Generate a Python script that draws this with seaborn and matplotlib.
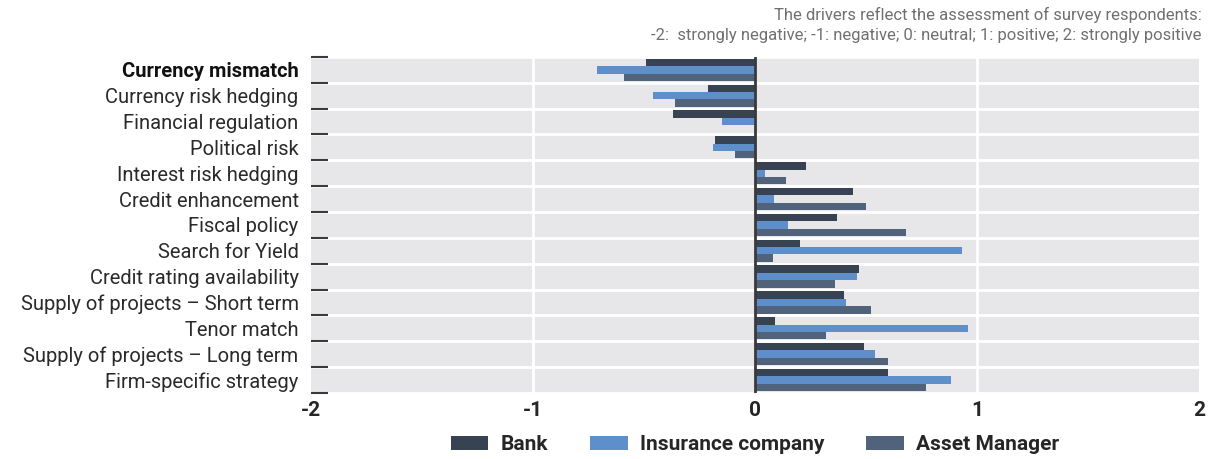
"""
Drivers of infrastructure investment by investor type, as a grouped
horizontal bar chart drawn with seaborn.
"""

import matplotlib

matplotlib.use("Agg")

import matplotlib.pyplot as plt
import numpy as np
import pandas as pd
import seaborn as sns
from matplotlib.patches import Patch

DRIVERS: list[str] = [
    "Currency mismatch",
    "Currency risk hedging",
    "Financial regulation",
    "Political risk",
    "Interest risk hedging",
    "Credit enhancement",
    "Fiscal policy",
    "Search for Yield",
    "Credit rating availability",
    "Supply of projects \u2013 Short term",
    "Tenor match",
    "Supply of projects \u2013 Long term",
    "Firm-specific strategy",
]

INVESTORS: list[str] = ["Bank", "Insurance company", "Asset Manager"]

BANK_SCORES: list[float] = [
    -0.49, -0.21, -0.37, -0.18, 0.23, 0.44, 0.37,
    0.20, 0.47, 0.40, 0.09, 0.49, 0.60,
]
INSURANCE_SCORES: list[float] = [
    -0.71, -0.46, -0.15, -0.19, 0.045, 0.085, 0.15,
    0.93, 0.46, 0.41, 0.96, 0.54, 0.88,
]
ASSET_MANAGER_SCORES: list[float] = [
    -0.59, -0.36, 0.0, -0.09, 0.14, 0.50, 0.68,
    0.08, 0.36, 0.52, 0.32, 0.60, 0.77,
]

X_TICKS: list[int] = [-2, -1, 0, 1, 2]

NOTE_TEXT: str = (
    "The drivers reflect the assessment of survey respondents:\n"
    "-2:  strongly negative; -1: negative; 0: neutral; 1: positive; 2: strongly positive"
)

COLORS: list[str] = ["#374353", "#5F8FCA", "#51637A"]
BACKGROUND: str = "#E7E7EA"
FONT: list[str] = ["Roboto", "DejaVu Sans"]


def create_driver_chart() -> None:
    """Build the grouped bar chart and save it to out.png."""
    frame = pd.DataFrame(
        {
            "Driver": DRIVERS * 3,
            "Investor": np.repeat(INVESTORS, len(DRIVERS)),
            "Score": BANK_SCORES + INSURANCE_SCORES + ASSET_MANAGER_SCORES,
        }
    )

    sns.set_style("white")
    plt.rcParams["font.family"] = FONT

    fig = plt.figure(figsize=(12.15, 4.59), dpi=100)
    ax = fig.add_axes([0.256, 0.144, 0.731, 0.732])
    ax.set_facecolor(BACKGROUND)

    sns.barplot(
        data=frame,
        x="Score",
        y="Driver",
        hue="Investor",
        order=DRIVERS,
        hue_order=INVESTORS,
        palette=COLORS,
        orient="h",
        width=0.86,
        gap=0,
        saturation=1,
        errorbar=None,
        legend=False,
        linewidth=0,
        edgecolor="none",
        ax=ax,
    )

    ax.set_xlim(-2, 2)
    ax.set_ylim(len(DRIVERS) - 0.5, -0.5)
    ax.set_xticks(X_TICKS)
    ax.set_xticklabels([str(t) for t in X_TICKS], fontsize=15, fontweight="bold")
    ax.set_xlabel("")
    ax.set_ylabel("")

    # white grid between categories and at +-1
    ax.set_yticks(np.arange(len(DRIVERS) + 1) - 0.5, minor=True)
    ax.grid(axis="y", which="minor", color="white", linewidth=2)
    ax.grid(axis="y", which="major", visible=False)
    for x_value in (-1, 1):
        ax.axvline(x_value, color="white", linewidth=2, zorder=0.5)
    ax.axvline(0, color="#3A3A3A", linewidth=2, zorder=3)
    ax.set_axisbelow(True)

    ax.tick_params(axis="y", which="major", left=False, length=0, pad=9,
                   labelsize=14.5)
    ax.tick_params(axis="y", which="minor", left=True, direction="in",
                   length=12, width=1.5, color="#3A3A3A")
    ax.tick_params(axis="x", length=0, pad=6)

    for label in ax.get_yticklabels():
        label.set_color("#2A2A2A")
        if label.get_text() == "Currency mismatch":
            label.set_fontweight("bold")
            label.set_color("#111111")

    for spine in ax.spines.values():
        spine.set_visible(False)

    handles = [Patch(facecolor=c, edgecolor="none") for c in COLORS]
    ax.legend(
        handles,
        INVESTORS,
        loc="center",
        bbox_to_anchor=(0.5, -0.155),
        ncol=3,
        frameon=False,
        handlelength=1.8,
        handleheight=0.7,
        handletextpad=0.6,
        columnspacing=2.0,
        prop={"size": 15, "weight": "bold"},
    )

    fig.text(
        0.989,
        0.985,
        NOTE_TEXT,
        ha="right",
        va="top",
        fontsize=12,
        color="#707070",
        linespacing=1.45,
    )

    fig.savefig("out.png", dpi=100, facecolor="white")


if __name__ == "__main__":
    create_driver_chart()
